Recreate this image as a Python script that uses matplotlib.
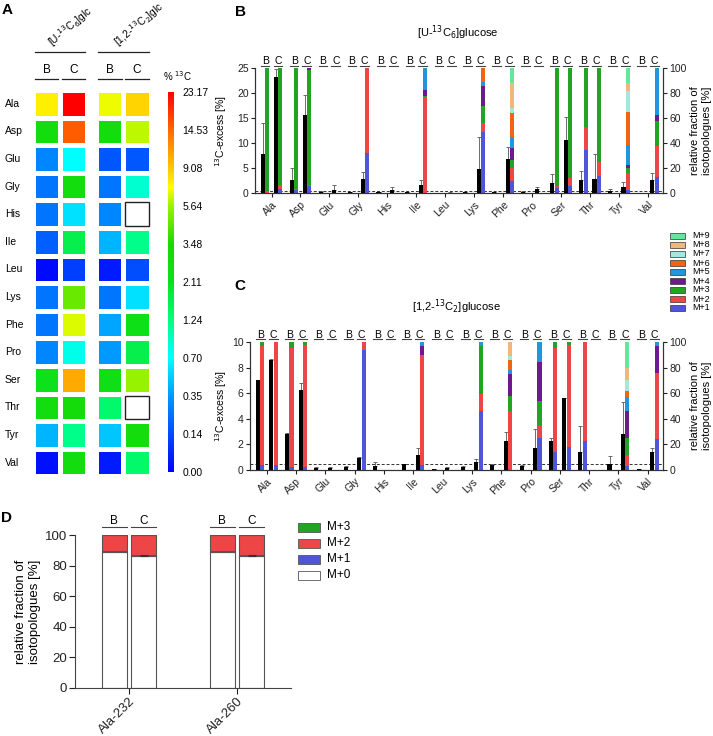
import matplotlib

matplotlib.use("Agg")

import matplotlib.pyplot as plt
import matplotlib.transforms as mtransforms
import numpy as np
from matplotlib.cm import ScalarMappable
from matplotlib.colors import LinearSegmentedColormap, Normalize
from matplotlib.patches import Rectangle

plt.rcParams["font.family"] = ["Liberation Sans", "DejaVu Sans"]
plt.rcParams["font.size"] = 7.5

# ---- data -------------------------------------------------------------
amino_acids = ["Ala", "Asp", "Glu", "Gly", "His", "Ile", "Leu",
               "Lys", "Phe", "Pro", "Ser", "Thr", "Tyr", "Val"]
iso_labels = ["M+1", "M+2", "M+3", "M+4", "M+5", "M+6", "M+7", "M+8", "M+9"]

# 13C-excess [%], [U-13C6]glucose
u_b = [7.8, 2.7, 0.3, 0.25, 0.25, 0.2, 0.02, 0.25, 0.25, 0.3, 2.1, 2.7, 0.45, 0.03]
u_b_err = [6.2, 2.3, 0.1, 0.1, 0.1, 0.1, 0.05, 0.1, 0.1, 0.1, 1.8, 1.7, 0.4, 0.0]
u_c = [23.2, 15.6, 0.7, 2.8, 0.6, 1.7, 0.12, 4.8, 6.8, 0.8, 10.7, 2.9, 1.2, 2.7]
u_c_err = [1.6, 4.0, 1.0, 1.5, 0.6, 0.9, 0.05, 6.5, 2.4, 0.5, 4.5, 4.9, 1.1, 1.3]

# 13C-excess [%], [1,2-13C2]glucose
t_b = [7.0, 2.8, 0.17, 0.25, 0.3, 0.45, 0.05, 0.25, 0.4, 0.35, 2.3, 1.4, 0.5, 0.05]
t_b_err = [0.05, 0.1, 0.05, 0.05, 0.3, 0.05, 0.0, 0.05, 0.05, 0.05, 0.2, 2.0, 0.6, 0.0]
t_c = [8.6, 6.25, 0.17, 0.9, np.nan, 1.2, 0.15, 0.6, 2.25, 1.7, 5.6, np.nan, 2.8, 1.4]
t_c_err = [0.05, 0.55, 0.05, 0.15, 0.0, 0.55, 0.05, 0.25, 0.75, 1.5, 0.05, 0.0, 2.5, 0.3]

# isotopologue fractions [%], columns M+1 .. M+9
u_b_frac = [
    [0.5, 1.5, 98, 0, 0, 0, 0, 0, 0],
    [3, 0.5, 96.5, 0, 0, 0, 0, 0, 0],
    [0, 0, 0, 0, 0, 0, 0, 0, 0],
    [0, 0, 0, 0, 0, 0, 0, 0, 0],
    [0, 0, 0, 0, 0, 0, 0, 0, 0],
    [0, 0, 0, 0, 0, 0, 0, 0, 0],
    [0, 0, 0, 0, 0, 0, 0, 0, 0],
    [0, 0, 0, 0, 0, 0, 0, 0, 0],
    [0, 0, 0, 0, 0, 0, 0, 0, 0],
    [0, 0, 0, 0, 0, 0, 0, 0, 0],
    [4, 1.5, 94.5, 0, 0, 0, 0, 0, 0],
    [35, 18, 47, 0, 0, 0, 0, 0, 0],
    [0, 0, 0, 0, 0, 0, 0, 0, 0],
    [0, 0, 0, 0, 0, 0, 0, 0, 0],
]
u_c_frac = [
    [3.5, 3, 93.5, 0, 0, 0, 0, 0, 0],
    [5.5, 1.5, 92, 1, 0, 0, 0, 0, 0],
    [0, 0, 0, 0, 0, 0, 0, 0, 0],
    [32, 68, 0, 0, 0, 0, 0, 0, 0],
    [0, 0, 0, 0, 0, 0, 0, 0, 0],
    [0, 77, 1, 5, 17, 0, 0, 0, 0],
    [0, 0, 0, 0, 0, 0, 0, 0, 0],
    [49, 7, 14, 16, 3, 11, 0, 0, 0],
    [10, 10, 7, 9, 9, 19, 4, 20, 12],
    [0, 0, 0, 0, 0, 0, 0, 0, 0],
    [6, 6, 88, 0, 0, 0, 0, 0, 0],
    [14, 11, 75, 0, 0, 0, 0, 0, 0],
    [3, 13, 4, 3, 16, 26, 17, 6, 12],
    [13, 25, 20, 5, 37, 0, 0, 0, 0],
]
t_b_frac = [
    [4, 93, 3, 0, 0, 0, 0, 0, 0],
    [2, 93, 5, 0, 0, 0, 0, 0, 0],
    [0, 0, 0, 0, 0, 0, 0, 0, 0],
    [0, 0, 0, 0, 0, 0, 0, 0, 0],
    [0, 0, 0, 0, 0, 0, 0, 0, 0],
    [0, 0, 0, 0, 0, 0, 0, 0, 0],
    [0, 0, 0, 0, 0, 0, 0, 0, 0],
    [0, 0, 0, 0, 0, 0, 0, 0, 0],
    [0, 0, 0, 0, 0, 0, 0, 0, 0],
    [0, 0, 0, 0, 0, 0, 0, 0, 0],
    [14, 81, 5, 0, 0, 0, 0, 0, 0],
    [23, 77, 0, 0, 0, 0, 0, 0, 0],
    [0, 0, 0, 0, 0, 0, 0, 0, 0],
    [0, 0, 0, 0, 0, 0, 0, 0, 0],
]
t_c_frac = [
    [4, 96, 0, 0, 0, 0, 0, 0, 0],
    [2, 96, 2, 0, 0, 0, 0, 0, 0],
    [0, 0, 0, 0, 0, 0, 0, 0, 0],
    [94, 6, 0, 0, 0, 0, 0, 0, 0],
    [0, 0, 0, 0, 0, 0, 0, 0, 0],
    [4, 86, 0, 7, 3, 0, 0, 0, 0],
    [0, 0, 0, 0, 0, 0, 0, 0, 0],
    [46, 13, 38, 0, 3, 0, 0, 0, 0],
    [0, 46, 12, 17, 3, 8, 3, 11, 0],
    [25, 10, 19, 30, 16, 0, 0, 0, 0],
    [18, 80, 2, 0, 0, 0, 0, 0, 0],
    [0, 0, 0, 0, 0, 0, 0, 0, 0],
    [3, 9, 13, 21, 11, 5, 8, 10, 20],
    [24, 52, 0, 21, 3, 0, 0, 0, 0],
]

# heat scale of panel A (evenly spaced labels)
scale_ticks = [0.00, 0.14, 0.35, 0.70, 1.24, 2.11, 3.48, 5.64, 9.08, 14.53, 23.17]

# panel D: Ala fragments
d_labels = ["Ala-232", "Ala-260"]
d_iso_labels = ["M+0", "M+1", "M+2", "M+3"]
d_b = [[89, 89], [0.3, 0.3], [10.5, 10.5], [0.2, 0.2]]
d_c = [[86.5, 86.5], [0.3, 0.3], [12.9, 12.9], [0.3, 0.3]]

# ---- styling ----------------------------------------------------------
iso_colors = ["#4f55d6", "#ee4646", "#23a323", "#6c1a8c", "#2196dc",
              "#f06414", "#a3e8dc", "#f0b67c", "#66e69a"]
d_colors = ["white", "#4f55d6", "#ee4646", "#23a323"]
heat_cmap = LinearSegmentedColormap.from_list("heat", [
    (0.0, (0.0, 0.0, 1.0)),
    (0.1, (0.0, 0.3, 1.0)),
    (0.2, (0.0, 0.6, 1.0)),
    (0.3, (0.0, 1.0, 1.0)),
    (0.4, (0.0, 1.0, 0.5)),
    (0.5, (0.05, 0.88, 0.1)),
    (0.6, (0.1, 0.85, 0.0)),
    (0.7, (0.6, 0.95, 0.0)),
    (0.75, (1.0, 1.0, 0.0)),
    (0.8, (1.0, 0.78, 0.0)),
    (0.9, (1.0, 0.42, 0.0)),
    (1.0, (1.0, 0.0, 0.0)),
])

W, H = 713, 736
fig = plt.figure(figsize=(W / 100, H / 100), dpi=100)


def box(left, top, right, bottom):
    return [left / W, 1 - bottom / H, (right - left) / W, (bottom - top) / H]


def ftext(x, y, s, **kw):
    fig.text(x / W, 1 - y / H, s, **kw)


# ---- panel A: heatmap -------------------------------------------------
axa = fig.add_axes(box(33, 90, 150.5, 476.5))
gap = np.full(len(amino_acids), np.nan)
heat = np.column_stack([u_b, u_c, gap, t_b, t_c]).astype(float)
pos = np.full(heat.shape, np.nan)
ok = np.isfinite(heat)
pos[ok] = np.interp(heat[ok], scale_ticks, np.linspace(0, 1, len(scale_ticks)))
xedges = [0, 1, 2, 2.35, 3.35, 4.35]
yedges = np.arange(len(amino_acids) + 1)
axa.pcolormesh(xedges, yedges, np.ma.masked_invalid(pos), cmap=heat_cmap,
               vmin=0, vmax=1, edgecolors="white", linewidth=2.5)
for i, v in enumerate(t_c):
    if not np.isfinite(v):
        axa.add_patch(Rectangle((3.35 + 0.07, i + 0.07), 0.86, 0.86,
                                facecolor="white", edgecolor="#222", lw=1.0))
axa.set_xlim(0, 4.35)
axa.set_ylim(len(amino_acids), 0)
axa.axis("off")
for i, name in enumerate(amino_acids):
    axa.text(-1.05, i + 0.5, name, ha="left", va="center", fontsize=7.5)
for x0, x1 in [(0.06, 1.94), (2.41, 4.29)]:
    axa.plot([x0, x1], [-1.38, -1.38], color="#222", lw=0.9, clip_on=False)
for c, lab in zip([0, 1, 2.35, 3.35], ["B", "C", "B", "C"]):
    axa.text(c + 0.5, -0.62, lab, ha="center", va="baseline", fontsize=8.5)
    axa.plot([c + 0.06, c + 0.94], [-0.4, -0.4], color="#222", lw=0.9, clip_on=False)
axa.text(0.8, -1.45, "[U-$^{13}$C$_6$]glc", rotation=40, rotation_mode="anchor",
         ha="left", va="bottom", fontsize=7.5)
axa.text(3.25, -1.45, "[1,2-$^{13}$C$_2$]glc", rotation=40, rotation_mode="anchor",
         ha="left", va="bottom", fontsize=7.5)
ftext(163, 76, "% $^{13}$C", fontsize=7, va="center")

cax = fig.add_axes(box(168, 92, 174, 472))
sm = ScalarMappable(norm=Normalize(0, 1), cmap=heat_cmap)
cb = fig.colorbar(sm, cax=cax, ticks=np.linspace(0, 1, len(scale_ticks)))
cb.set_ticklabels([f"{v:.2f}" for v in scale_ticks])
cb.outline.set_visible(False)
cax.tick_params(length=0, pad=6, labelsize=7.5)


# ---- panels B and C: excess + isotopologue stacks ---------------------
def draw_panel(rect, ex_b, er_b, ex_c, er_c, fr_b, fr_c, ymax, ystep, cutoff,
               label_px, left_px, width_px):
    ax = fig.add_axes(rect)
    ax2 = ax.twinx()
    x = np.arange(len(amino_acids))
    bw = 0.14
    for off, vals, errs in [(-0.305, ex_b, er_b), (0.155, ex_c, er_c)]:
        vals = np.asarray(vals, float)
        errs = np.asarray(errs, float)
        m = np.isfinite(vals)
        ax.bar(x[m] + off, vals[m], width=bw, color="black", linewidth=0, zorder=3)
        ax.errorbar(x[m] + off, vals[m], yerr=[np.zeros(m.sum()), errs[m]], fmt="none",
                    ecolor="#555", elinewidth=0.6, capsize=1.2, capthick=0.6, zorder=2)
    for off, frac in [(-0.155, fr_b), (0.305, fr_c)]:
        frac = np.asarray(frac, float)
        bottom = np.zeros(len(x))
        for k in range(frac.shape[1]):
            ax2.bar(x + off, frac[:, k], bottom=bottom, width=bw,
                    color=iso_colors[k], linewidth=0)
            bottom += frac[:, k]
    ax.axhline(cutoff, color="#333", lw=0.7, ls=(0, (3, 2)), zorder=1)

    ax.set_xlim(-0.57, 13.52)
    ax.set_ylim(0, ymax)
    ax2.set_ylim(0, 100)
    ax.set_yticks(np.arange(0, ymax + 0.01, ystep))
    ax2.set_yticks(np.arange(0, 101, 20))
    ax.set_xticks(x)
    ax.set_xticklabels(amino_acids, rotation=45, ha="right", va="top",
                       rotation_mode="anchor", fontsize=8)
    for a in (ax, ax2):
        a.spines["top"].set_visible(False)
        for s in a.spines.values():
            s.set_linewidth(0.8)
            s.set_color("#333")
        a.tick_params(length=3, width=0.8, labelsize=7.5, pad=1.5, colors="#222")
    ax.set_ylabel("$^{13}$C-excess [%]", fontsize=7.5)
    ax.yaxis.set_label_coords((label_px - left_px) / width_px, 0.5)
    ax2.set_ylabel("relative fraction of\nisotopologues [%]", fontsize=8,
                   rotation=90, va="center")
    ax2.yaxis.set_label_coords((701 - left_px) / width_px, 0.5)

    trans = mtransforms.blended_transform_factory(ax.transData, ax.transAxes)
    for i in x:
        for c, lab, x0, x1 in [(-0.22, "B", -0.37, -0.07), (0.22, "C", 0.07, 0.37)]:
            ax.text(i + c, 1.035, lab, transform=trans, ha="center", va="baseline",
                    fontsize=7.5)
            ax.plot([i + x0, i + x1], [1.02, 1.02], transform=trans, color="#444",
                    lw=0.8, clip_on=False)
    return ax


draw_panel(box(255, 68.3, 663, 193.3), u_b, u_b_err, u_c, u_c_err,
           u_b_frac, u_c_frac, 25, 5, 0.45, 229, 255, 408)
draw_panel(box(250, 342, 663, 470), t_b, t_b_err, t_c, t_c_err,
           t_b_frac, t_c_frac, 10, 2, 0.45, 229, 250, 413)

ftext(458, 33, "[U-$^{13}$C$_6$]glucose", ha="center", va="center", fontsize=8)
ftext(456, 307, "[1,2-$^{13}$C$_2$]glucose", ha="center", va="center", fontsize=8)

# legend for B/C
for k in range(len(iso_labels) - 1, -1, -1):
    yc = 236 + (len(iso_labels) - 1 - k) * 9
    fig.patches.append(Rectangle((670 / W, 1 - (yc + 2.7) / H), 15 / W, 5.4 / H,
                                 transform=fig.transFigure, facecolor=iso_colors[k],
                                 edgecolor="#333", lw=0.5))
    ftext(692, yc, iso_labels[k], va="center", fontsize=6.5)

# ---- panel D ----------------------------------------------------------
axd = fig.add_axes(box(75, 535, 291, 688))
xd = np.arange(len(d_labels))
for off, parts in [(-0.135, d_b), (0.135, d_c)]:
    bottom = np.zeros(len(xd))
    for k, vals in enumerate(parts):
        vals = np.asarray(vals, float)
        axd.bar(xd + off, vals, bottom=bottom, width=0.23, color=d_colors[k],
                edgecolor="#555", linewidth=0.8)
        bottom += vals
axd.errorbar(xd + 0.135, np.asarray(d_c[0], float), yerr=0.5, fmt="none",
             ecolor="#333", elinewidth=0.6, capsize=3, capthick=0.8)
axd.set_xlim(-0.5, 1.5)
axd.set_ylim(0, 100)
axd.set_yticks(np.arange(0, 101, 20))
axd.set_xticks(xd)
axd.set_xticklabels(d_labels, rotation=45, ha="right", va="top",
                    rotation_mode="anchor", fontsize=9.5)
for s in ["top", "right"]:
    axd.spines[s].set_visible(False)
for s in ["left", "bottom"]:
    axd.spines[s].set_linewidth(0.8)
    axd.spines[s].set_color("#444")
axd.tick_params(length=4, width=0.8, labelsize=9.5, pad=1.5, colors="#222")
axd.set_ylabel("relative fraction of\nisotopologues [%]", fontsize=9.5)
axd.yaxis.set_label_coords((41 - 75) / 216, 0.5)
transd = mtransforms.blended_transform_factory(axd.transData, axd.transAxes)
for i in xd:
    for off, lab in [(-0.135, "B"), (0.135, "C")]:
        axd.text(i + off, 1.075, lab, transform=transd, ha="center", va="baseline",
                 fontsize=8.5)
        axd.plot([i + off - 0.115, i + off + 0.115], [1.055, 1.055], transform=transd,
                 color="#444", lw=0.8, clip_on=False)

for k in range(len(d_iso_labels) - 1, -1, -1):
    yc = 527 + (len(d_iso_labels) - 1 - k) * 16
    fig.patches.append(Rectangle((298 / W, 1 - (yc + 4.5) / H), 22 / W, 9 / H,
                                 transform=fig.transFigure, facecolor=d_colors[k],
                                 edgecolor="#555", lw=0.6))
    ftext(327, yc, d_iso_labels[k], va="center", fontsize=8.5)

# panel letters
for lab, x, y in [("A", 7, 10), ("B", 240, 12), ("C", 240, 286), ("D", 7, 518)]:
    ftext(x, y, lab, ha="center", va="center", fontsize=11, fontweight="bold")

fig.savefig("out.png", dpi=100)
